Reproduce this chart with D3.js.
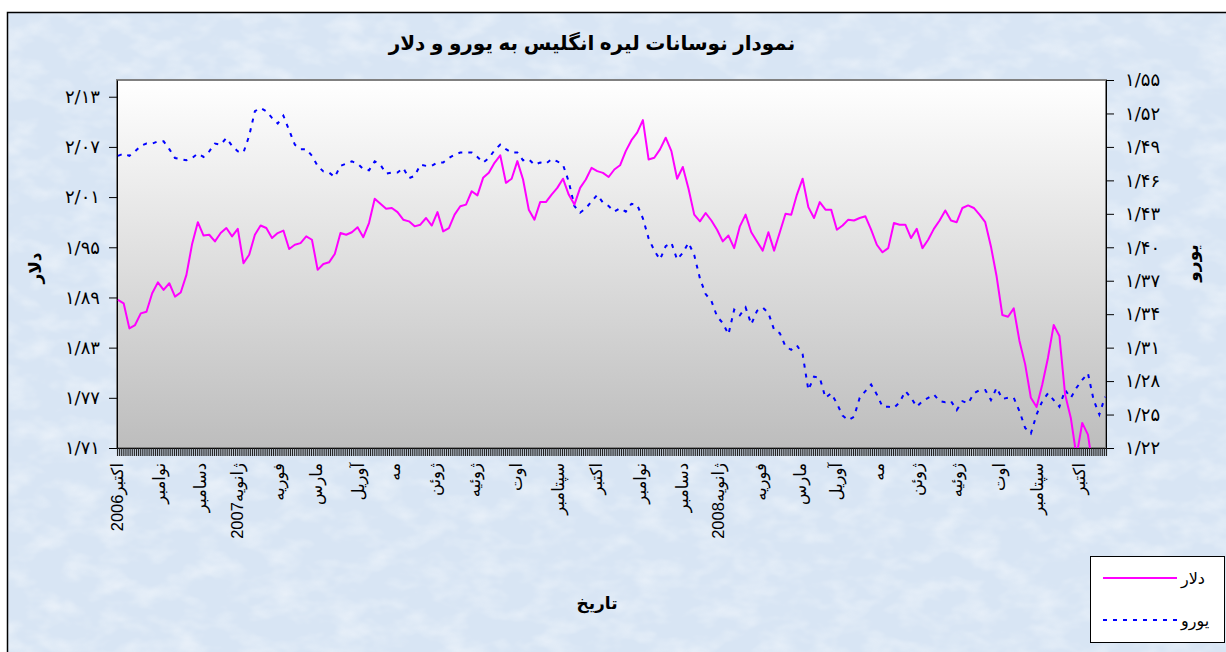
<!doctype HTML>
<html>
<head>
<meta charset="utf-8">
<style>
    body { margin: 0; background: #ffffff; }
    text { font-family: "Liberation Sans", "DejaVu Sans", sans-serif; }
</style>
<script src="https://d3js.org/d3.v7.min.js"></script>
</head>
<body>
<div id="chart"></div>
<script>

    // category axis = trading days, october 2006 .. mid october 2008
    var monthNames = ["اکتبر2006", "نوامبر", "دسامبر", "ژانویه2007", "فوریه", "مارس", "آوریل", "مه",
        "ژوئن", "ژوئیه", "اوت", "سپتامبر", "اکتبر", "نوامبر", "دسامبر", "ژانویه2008", "فوریه",
        "مارس", "آوریل", "مه", "ژوئن", "ژوئیه", "اوت", "سپتامبر", "اکتبر"];
    var monthDays = [22, 22, 19, 22, 20, 22, 19, 21, 21, 22, 22, 20, 23, 22, 19, 22, 21, 19, 22, 20, 21, 23, 20, 22, 14];

    var leftTicks = [1.71, 1.77, 1.83, 1.89, 1.95, 2.01, 2.07, 2.13];
    var rightTicks = [1.22, 1.25, 1.28, 1.31, 1.34, 1.37, 1.40, 1.43, 1.46, 1.49, 1.52, 1.55];

    // one reading every 3 trading days
    var step = 3;
    var dollar = [
        1.887, 1.883, 1.853, 1.857, 1.871, 1.873, 1.895, 1.908, 1.899, 1.907,
        1.891, 1.896, 1.917, 1.954, 1.980, 1.964, 1.965, 1.957, 1.967, 1.973,
        1.963, 1.972, 1.931, 1.941, 1.965, 1.976, 1.973, 1.961, 1.967, 1.970,
        1.948, 1.953, 1.955, 1.963, 1.959, 1.923, 1.930, 1.932, 1.942, 1.967,
        1.965, 1.968, 1.974, 1.962, 1.979, 2.008, 2.002, 1.996, 1.997, 1.992,
        1.983, 1.981, 1.975, 1.977, 1.985, 1.976, 1.992, 1.969, 1.973, 1.989,
        1.999, 2.001, 2.017, 2.012, 2.033, 2.039, 2.051, 2.060, 2.027, 2.032,
        2.053, 2.031, 1.995, 1.983, 2.004, 2.004, 2.013, 2.021, 2.032, 2.013,
        2.001, 2.021, 2.031, 2.045, 2.041, 2.039, 2.034, 2.043, 2.048, 2.065,
        2.078, 2.087, 2.102, 2.055, 2.057, 2.067, 2.081, 2.065, 2.032, 2.046,
        2.020, 1.989, 1.981, 1.991, 1.982, 1.971, 1.957, 1.964, 1.949, 1.975,
        1.989, 1.968, 1.957, 1.946, 1.968, 1.946, 1.968, 1.990, 1.989, 2.013,
        2.032, 1.998, 1.985, 2.004, 1.995, 1.995, 1.971, 1.976, 1.983, 1.982,
        1.985, 1.987, 1.971, 1.953, 1.944, 1.949, 1.979, 1.977, 1.977, 1.961,
        1.972, 1.949, 1.959, 1.972, 1.982, 1.994, 1.982, 1.980, 1.997, 2.000,
        1.997, 1.989, 1.980, 1.951, 1.915, 1.869, 1.867, 1.877, 1.838, 1.810,
        1.770, 1.759, 1.786, 1.818, 1.857, 1.844, 1.774, 1.746, 1.700, 1.740,
        1.726, 1.680, 1.660, 1.650];
    var euro = [
        1.482, 1.484, 1.482, 1.486, 1.491, 1.493, 1.493, 1.495, 1.495, 1.488,
        1.480, 1.479, 1.478, 1.480, 1.484, 1.481, 1.486, 1.493, 1.492, 1.498,
        1.491, 1.486, 1.485, 1.500, 1.522, 1.525, 1.522, 1.516, 1.511, 1.518,
        1.505, 1.492, 1.488, 1.488, 1.482, 1.473, 1.468, 1.467, 1.463, 1.473,
        1.475, 1.477, 1.475, 1.470, 1.469, 1.477, 1.474, 1.466, 1.467, 1.467,
        1.471, 1.462, 1.464, 1.474, 1.473, 1.473, 1.476, 1.476, 1.480, 1.483,
        1.485, 1.485, 1.485, 1.481, 1.476, 1.480, 1.487, 1.492, 1.488, 1.485,
        1.485, 1.478, 1.479, 1.474, 1.476, 1.475, 1.479, 1.477, 1.474, 1.459,
        1.437, 1.431, 1.435, 1.441, 1.447, 1.440, 1.437, 1.432, 1.435, 1.432,
        1.439, 1.438, 1.426, 1.408, 1.397, 1.389, 1.401, 1.404, 1.389, 1.395,
        1.404, 1.393, 1.372, 1.358, 1.352, 1.338, 1.332, 1.322, 1.344, 1.339,
        1.346, 1.331, 1.343, 1.346, 1.341, 1.326, 1.323, 1.311, 1.308, 1.312,
        1.304, 1.272, 1.284, 1.283, 1.265, 1.269, 1.260, 1.249, 1.245, 1.248,
        1.265, 1.271, 1.277, 1.268, 1.257, 1.257, 1.256, 1.261, 1.271, 1.265,
        1.257, 1.262, 1.265, 1.268, 1.262, 1.261, 1.262, 1.254, 1.262, 1.260,
        1.269, 1.272, 1.272, 1.263, 1.274, 1.264, 1.265, 1.265, 1.253, 1.238,
        1.233, 1.250, 1.262, 1.269, 1.263, 1.257, 1.272, 1.265, 1.274, 1.281,
        1.287, 1.263, 1.250, 1.266];

    var canvasWidth = 1226;
    var canvasHeight = 652;
    var plot = {left: 117, right: 1106, top: 80, bottom: 448};

    var svg = d3.select("#chart").append("svg")
        .attr("width", canvasWidth)
        .attr("height", canvasHeight);

    var defs = svg.append("defs");

    // paper-like blue texture of the chart area
    var tex = defs.append("filter").attr("id", "tex")
        .attr("x", 0).attr("y", 0).attr("width", "100%").attr("height", "100%");
    tex.append("feTurbulence")
        .attr("type", "fractalNoise")
        .attr("baseFrequency", "0.03 0.05")
        .attr("numOctaves", 3)
        .attr("seed", 7);
    tex.append("feColorMatrix")
        .attr("type", "matrix")
        .attr("values", "0 0 0 0 1  0 0 0 0 1  0 0 0 0 1  2.0 0 0 0 -0.85");

    var grad = defs.append("linearGradient").attr("id", "plotFill")
        .attr("x1", 0).attr("y1", 0).attr("x2", 0).attr("y2", 1);
    grad.append("stop").attr("offset", "0%").attr("stop-color", "#ffffff");
    grad.append("stop").attr("offset", "100%").attr("stop-color", "#bdbdbd");

    defs.append("clipPath").attr("id", "plotClip")
        .append("rect")
        .attr("x", plot.left).attr("y", plot.top)
        .attr("width", plot.right - plot.left)
        .attr("height", plot.bottom - plot.top);

    // chart area
    svg.append("rect")
        .attr("x", 7).attr("y", 12)
        .attr("width", canvasWidth).attr("height", canvasHeight)
        .attr("fill", "#d8e5f4");
    svg.append("rect")
        .attr("x", 7).attr("y", 12)
        .attr("width", canvasWidth).attr("height", canvasHeight)
        .attr("filter", "url(#tex)")
        .attr("opacity", 0.45);
    svg.append("rect")
        .attr("x", 7.5).attr("y", 12.5)
        .attr("width", canvasWidth).attr("height", canvasHeight)
        .attr("fill", "none")
        .attr("stroke", "#000")
        .attr("stroke-width", 1.5);

    // plot area
    svg.append("rect")
        .attr("x", plot.left).attr("y", plot.top)
        .attr("width", plot.right - plot.left)
        .attr("height", plot.bottom - plot.top)
        .attr("fill", "url(#plotFill)")
        .attr("stroke", "#808080")
        .attr("stroke-width", 2);

    var nDays = d3.sum(monthDays);
    var monthStart = [0].concat(Array.from(d3.cumsum(monthDays)).slice(0, -1));

    var x = d3.scaleLinear().domain([0, nDays]).range([plot.left, plot.right]);
    var yL = d3.scaleLinear().domain([1.71, 2.15]).range([plot.bottom, plot.top]);
    var yR = d3.scaleLinear().domain([1.22, 1.55]).range([plot.bottom, plot.top]);

    var persian = "۰۱۲۳۴۵۶۷۸۹";
    function fa(v) {
        return v.toFixed(2).replace(".", "/").replace(/[0-9]/g, function(c) { return persian[+c]; });
    }

    // axes
    var axL = svg.append("g")
        .attr("transform", "translate(" + plot.left + ",0)")
        .call(d3.axisLeft(yL).tickValues(leftTicks).tickFormat(fa).tickSize(8).tickSizeOuter(0).tickPadding(9));
    var axR = svg.append("g")
        .attr("transform", "translate(" + plot.right + ",0)")
        .call(d3.axisRight(yR).tickValues(rightTicks).tickFormat(fa).tickSize(8).tickSizeOuter(0).tickPadding(11));
    var axB = svg.append("g")
        .attr("transform", "translate(0," + plot.bottom + ")")
        .call(d3.axisBottom(x).tickValues(d3.range(0, nDays + 1)).tickFormat("").tickSize(8).tickSizeOuter(0));

    [axL, axR, axB].forEach(function(a) {
        a.selectAll("path, line").attr("stroke", "#000");
        a.selectAll("text").attr("font-size", "18px").attr("fill", "#000")
            .style("font-family", "'DejaVu Sans', sans-serif");
    });
    axB.selectAll("line").attr("stroke-width", 1.1).attr("stroke", "#222");

    // month labels
    svg.append("g").selectAll("text")
        .data(monthNames)
        .join("text")
        .attr("transform", function(d, i) { return "translate(" + x(monthStart[i]) + "," + (plot.bottom + 15) + ") rotate(-90)"; })
        .attr("dy", "0.35em")
        .attr("text-anchor", "end")
        .attr("font-size", "16.5px")
        .text(function(d) { return d; });

    // lines
    var lineL = d3.line().x(function(d, i) { return x(i * step + 0.5); }).y(function(d) { return yL(d); });
    var lineR = d3.line().x(function(d, i) { return x(i * step + 0.5); }).y(function(d) { return yR(d); });

    var lines = svg.append("g").attr("clip-path", "url(#plotClip)");
    lines.append("path")
        .datum(euro)
        .attr("d", lineR)
        .attr("fill", "none")
        .attr("stroke", "#0000ff")
        .attr("stroke-width", 2)
        .attr("stroke-dasharray", "4,6");
    lines.append("path")
        .datum(dollar)
        .attr("d", lineL)
        .attr("fill", "none")
        .attr("stroke", "#ff00ff")
        .attr("stroke-width", 2)
        .attr("stroke-linejoin", "round");

    // titles
    svg.append("text")
        .attr("x", 592).attr("y", 50)
        .attr("text-anchor", "middle")
        .attr("font-size", "20px")
        .attr("font-weight", "bold")
        .text("نمودار نوسانات لیره انگلیس به یورو و دلار");

    svg.append("text")
        .attr("x", 597).attr("y", 609)
        .attr("text-anchor", "middle")
        .attr("font-size", "17px")
        .attr("font-weight", "bold")
        .text("تاریخ");

    svg.append("text")
        .attr("transform", "translate(35, 268) rotate(-90)")
        .attr("dy", "0.35em")
        .attr("text-anchor", "middle")
        .attr("font-size", "17px")
        .attr("font-weight", "bold")
        .text("دلار");

    svg.append("text")
        .attr("transform", "translate(1192, 263) rotate(-90)")
        .attr("dy", "0.35em")
        .attr("text-anchor", "middle")
        .attr("font-size", "17px")
        .attr("font-weight", "bold")
        .text("یورو");

    // legend
    var legend = svg.append("g");
    legend.append("rect")
        .attr("x", 1090.5).attr("y", 556.5)
        .attr("width", 134).attr("height", 86)
        .attr("fill", "#ffffff")
        .attr("stroke", "#000");
    var legendItems = [
        {name: "دلار", color: "#ff00ff", dash: null},
        {name: "یورو", color: "#0000ff", dash: "4,6"}
    ];
    legendItems.forEach(function(d, i) {
        var ly = 578 + i * 42;
        legend.append("line")
            .attr("x1", 1103).attr("x2", 1177)
            .attr("y1", ly).attr("y2", ly)
            .attr("stroke", d.color)
            .attr("stroke-width", 2)
            .attr("stroke-dasharray", d.dash);
        legend.append("text")
            .attr("x", 1181).attr("y", ly)
            .attr("dy", "0.35em")
            .attr("font-size", "16px")
            .text(d.name);
    });

</script>
</body>
</html>
